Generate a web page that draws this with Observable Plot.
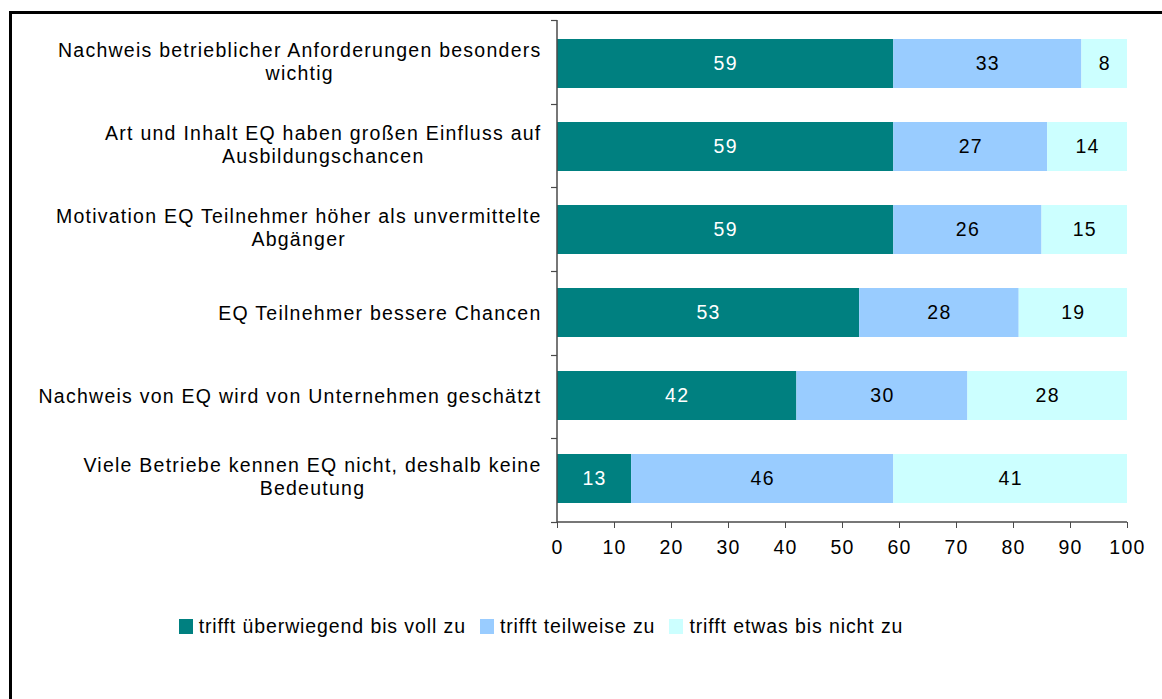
<!DOCTYPE html>
<html>
<head>
<meta charset="utf-8">
<script src="https://cdn.jsdelivr.net/npm/d3@7"></script>
<script src="https://cdn.jsdelivr.net/npm/@observablehq/plot@0.6"></script>
<style>
  html, body { margin: 0; padding: 0; background: #fff; overflow: hidden; }
  body { width: 1162px; height: 699px; position: relative; font-family: "Liberation Sans", Arial, sans-serif; }
  #frame { position: absolute; left: 9px; top: 11px; width: 1300px; height: 900px; border-left: 3px solid #000; border-top: 3px solid #000; box-sizing: border-box; }
  #chart { position: absolute; left: 0; top: 0; }
  #chart svg text { letter-spacing: 1.25px; }
  #legend { position: absolute; left: 0; top: 615px; width: 1082px; display: flex; justify-content: center; align-items: center; font-size: 19.5px; letter-spacing: 0.9px; color: #000; }
  #legend .item { display: flex; align-items: center; margin: 0 7px; }
  #legend .sw { width: 14px; height: 15px; margin-right: 6px; }
</style>
</head>
<body>
<div id="frame"></div>
<div id="chart"></div>
<div id="legend"></div>
<script>
const categories = [
  "Nachweis betrieblicher Anforderungen besonders wichtig",
  "Art und Inhalt EQ haben großen Einfluss auf Ausbildungschancen",
  "Motivation EQ Teilnehmer höher als unvermittelte Abgänger",
  "EQ Teilnehmer bessere Chancen",
  "Nachweis von EQ wird von Unternehmen geschätzt",
  "Viele Betriebe kennen EQ nicht, deshalb keine Bedeutung"
];
const categoryLabels = [
  "Nachweis betrieblicher Anforderungen besonders\nwichtig",
  "Art und Inhalt EQ haben großen Einfluss auf\nAusbildungschancen",
  "Motivation EQ Teilnehmer höher als unvermittelte\nAbgänger",
  "EQ Teilnehmer bessere Chancen",
  "Nachweis von EQ wird von Unternehmen geschätzt",
  "Viele Betriebe kennen EQ nicht, deshalb keine\nBedeutung"
];
const seriesNames = ["trifft überwiegend bis voll zu", "trifft teilweise zu", "trifft etwas bis nicht zu"];
const seriesColors = ["#008080", "#99CCFF", "#CCFFFF"];
const valuesVoll = [59, 59, 59, 53, 42, 13];
const valuesTeilweise = [33, 27, 26, 28, 30, 46];
const valuesNicht = [8, 14, 15, 19, 28, 41];
const xTicks = [0, 10, 20, 30, 40, 50, 60, 70, 80, 90, 100];

const seriesValues = [valuesVoll, valuesTeilweise, valuesNicht];
const data = [];
seriesNames.forEach((s, si) => {
  categories.forEach((c, ci) => {
    data.push({category: c, series: s, value: seriesValues[si][ci]});
  });
});
const labelOf = new Map(categories.map((c, i) => [c, categoryLabels[i]]));

const axisColor = "#4a4a4a";
const fs = 19.5;

function axisLines(index, scales, values, dims) {
  const g = d3.create("svg:g");
  const top = dims.marginTop, bottom = dims.height - dims.marginBottom;
  const left = dims.marginLeft, right = dims.width - dims.marginRight;
  const n = categories.length;
  const step = (bottom - top) / n;
  g.append("line").attr("x1", left).attr("x2", left).attr("y1", top).attr("y2", bottom)
    .attr("stroke", axisColor).attr("stroke-width", 1.5);
  for (let i = 0; i <= n; i++) {
    const y = Math.round(top + i * step) + 0.5;
    g.append("line").attr("x1", left - 6).attr("x2", left).attr("y1", y).attr("y2", y)
      .attr("stroke", axisColor).attr("stroke-width", 1.2);
  }
  g.append("line").attr("x1", left).attr("x2", right).attr("y1", bottom).attr("y2", bottom)
    .attr("stroke", axisColor).attr("stroke-width", 1.5);
  return g.node();
}

const plot = Plot.plot({
  width: 1162,
  height: 572,
  marginLeft: 557,
  marginRight: 35,
  marginTop: 20,
  marginBottom: 50,
  style: {fontFamily: "'Liberation Sans', Arial, sans-serif", fontSize: fs + "px", background: "transparent", overflow: "visible"},
  x: {domain: [0, 100], ticks: xTicks},
  y: {domain: categories, paddingInner: 0.41, paddingOuter: 0.205},
  color: {domain: seriesNames, range: seriesColors},
  marks: [
    Plot.barX(data, Plot.stackX({x: "value", y: "category", fill: "series", order: seriesNames})),
    Plot.text(data, Plot.stackX({x: "value", y: "category", z: "series", order: seriesNames, text: d => String(d.value),
      fill: d => d.series === seriesNames[0] ? "#fff" : "#000", fontSize: fs})),
    Plot.axisX({ticks: xTicks, tickSize: 6, tickPadding: 12, stroke: axisColor, fill: "#000", fontSize: fs, label: null, tickFormat: d => String(d)}),
    Plot.axisY({tickSize: 0, tickPadding: 16, fill: "#000", fontSize: fs, lineHeight: 1.18, label: null, tickFormat: c => labelOf.get(c)}),
    axisLines
  ]
});
document.getElementById("chart").appendChild(plot);

// center the lines of multi-line category labels inside their right-aligned block
plot.querySelectorAll('g[aria-label="y-axis tick label"] text').forEach(t => {
  const spans = t.querySelectorAll("tspan");
  if (spans.length < 2) return;
  const w = Math.max(...[...spans].map(s => s.getComputedTextLength()));
  t.setAttribute("text-anchor", "middle");
  spans.forEach(s => {
    const x0 = parseFloat(s.getAttribute("x") ?? t.getAttribute("x") ?? 0) || 0;
    s.setAttribute("x", x0 - w / 2);
  });
  const tr = t.getAttribute("transform") || "";
  t.setAttribute("transform", (tr + " translate(0,-3)").trim());
});

const legend = document.getElementById("legend");
seriesNames.forEach((s, i) => {
  const item = document.createElement("div");
  item.className = "item";
  const sw = document.createElement("div");
  sw.className = "sw";
  sw.style.background = seriesColors[i];
  const lab = document.createElement("span");
  lab.textContent = s;
  item.appendChild(sw);
  item.appendChild(lab);
  legend.appendChild(item);
});
</script>
</body>
</html>
